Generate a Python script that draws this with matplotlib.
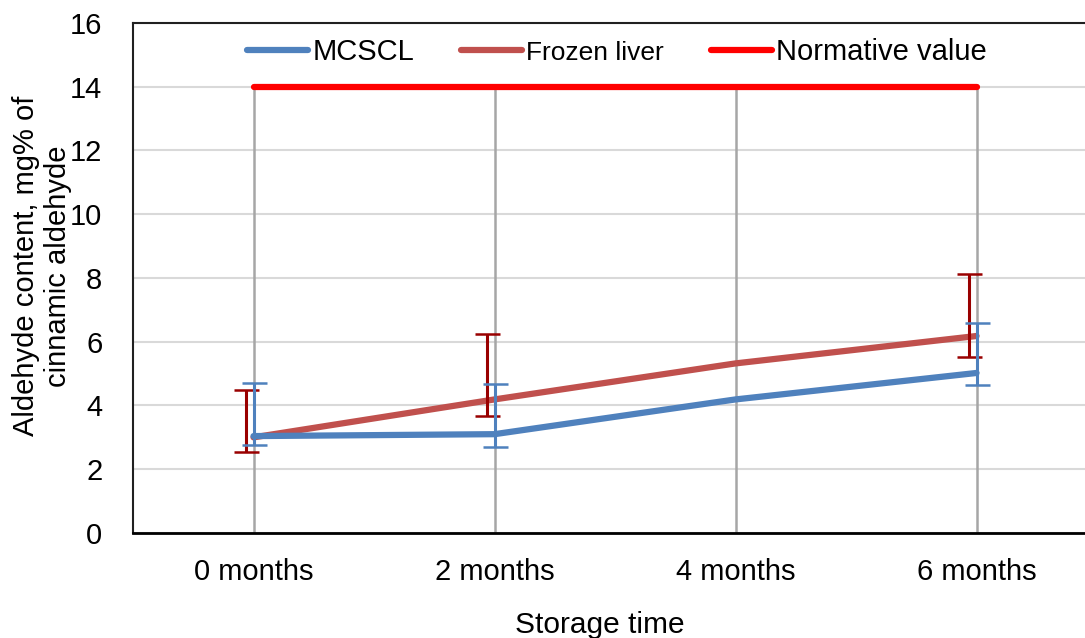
import matplotlib
matplotlib.use("Agg")
import matplotlib.pyplot as plt
import numpy as np

plt.rcParams['font.family'] = ['Liberation Sans', 'DejaVu Sans']

# data
months = ['0 months', '2 months', '4 months', '6 months']
mcscl = [3.04, 3.10, 4.19, 5.02]
mcscl_err_up = [1.68, 1.56, 0.0, 1.57]
mcscl_err_down = [0.28, 0.39, 0.0, 0.39]
liver = [3.00, 4.19, 5.32, 6.18]
liver_err_up = [1.48, 2.05, 0.0, 1.95]
liver_err_down = [0.46, 0.52, 0.0, 0.65]
normative = [14, 14, 14, 14]

x = np.arange(len(months))

fig = plt.figure(figsize=(10.85, 6.38), dpi=100)
ax = fig.add_axes([0.1226, 0.1646, 0.8885, 0.7994])

# grid
for v in range(0, 17, 2):
    ax.axhline(v, color='#d9d9d9', lw=1.5, zorder=0)

# drop lines
ax.vlines(x, 0, normative, color='#a6a6a6', lw=1.8, zorder=1)

ax.plot(x, normative, color='#ff0000', lw=4.5, solid_capstyle='round',
        label='Normative value', zorder=3)
ax.plot(x, liver, color='#c0504d', lw=4.5, solid_capstyle='round',
        label='Frozen liver', zorder=4)
ax.plot(x, mcscl, color='#4f81bd', lw=4.5, solid_capstyle='round',
        label='MCSCL', zorder=5)

# error bars (none at 4 months)
idx = [0, 1, 3]
ax.errorbar(x[idx] - 0.03, np.array(liver)[idx],
            yerr=[np.array(liver_err_down)[idx], np.array(liver_err_up)[idx]],
            fmt='none', ecolor='#990000', elinewidth=2.2, capsize=9, capthick=1.8,
            zorder=6)
ax.errorbar(x[idx], np.array(mcscl)[idx],
            yerr=[np.array(mcscl_err_down)[idx], np.array(mcscl_err_up)[idx]],
            fmt='none', ecolor='#4f81bd', elinewidth=2.2, capsize=9, capthick=1.8,
            zorder=6)

ax.set_xlim(-0.5, 3.5)
ax.set_ylim(0, 16)
ax.set_yticks(range(0, 17, 2))
ax.set_xticks(x)
ax.set_xticklabels(months)
ax.tick_params(axis='both', labelsize=21, length=0)
ax.tick_params(axis='y', pad=22)
ax.tick_params(axis='x', pad=18)

ax.spines['right'].set_visible(False)
ax.spines['top'].set_color('#202020')
ax.spines['top'].set_linewidth(1.5)
ax.spines['left'].set_color('#202020')
ax.spines['left'].set_linewidth(1.5)
ax.spines['bottom'].set_color('#000000')
ax.spines['bottom'].set_linewidth(2)

ax.set_ylabel('Aldehyde content, mg% of\ncinnamic aldehyde', fontsize=21,
              linespacing=1.2)
ax.yaxis.set_label_coords(-0.063, 0.523)
fig.text(0.553, 0.02, 'Storage time', fontsize=21.5, ha='center', va='center')

handles, labels = ax.get_legend_handles_labels()
order = [2, 1, 0]
leg = ax.legend([handles[i] for i in order], [labels[i] for i in order],
                loc='center', bbox_to_anchor=(0.502, 0.943), ncol=3,
                frameon=False, fontsize=21, handlelength=2.1,
                handletextpad=0.15, columnspacing=1.6)
leg.get_texts()[1].set_fontsize(19)

fig.savefig('out.png', dpi=100)
